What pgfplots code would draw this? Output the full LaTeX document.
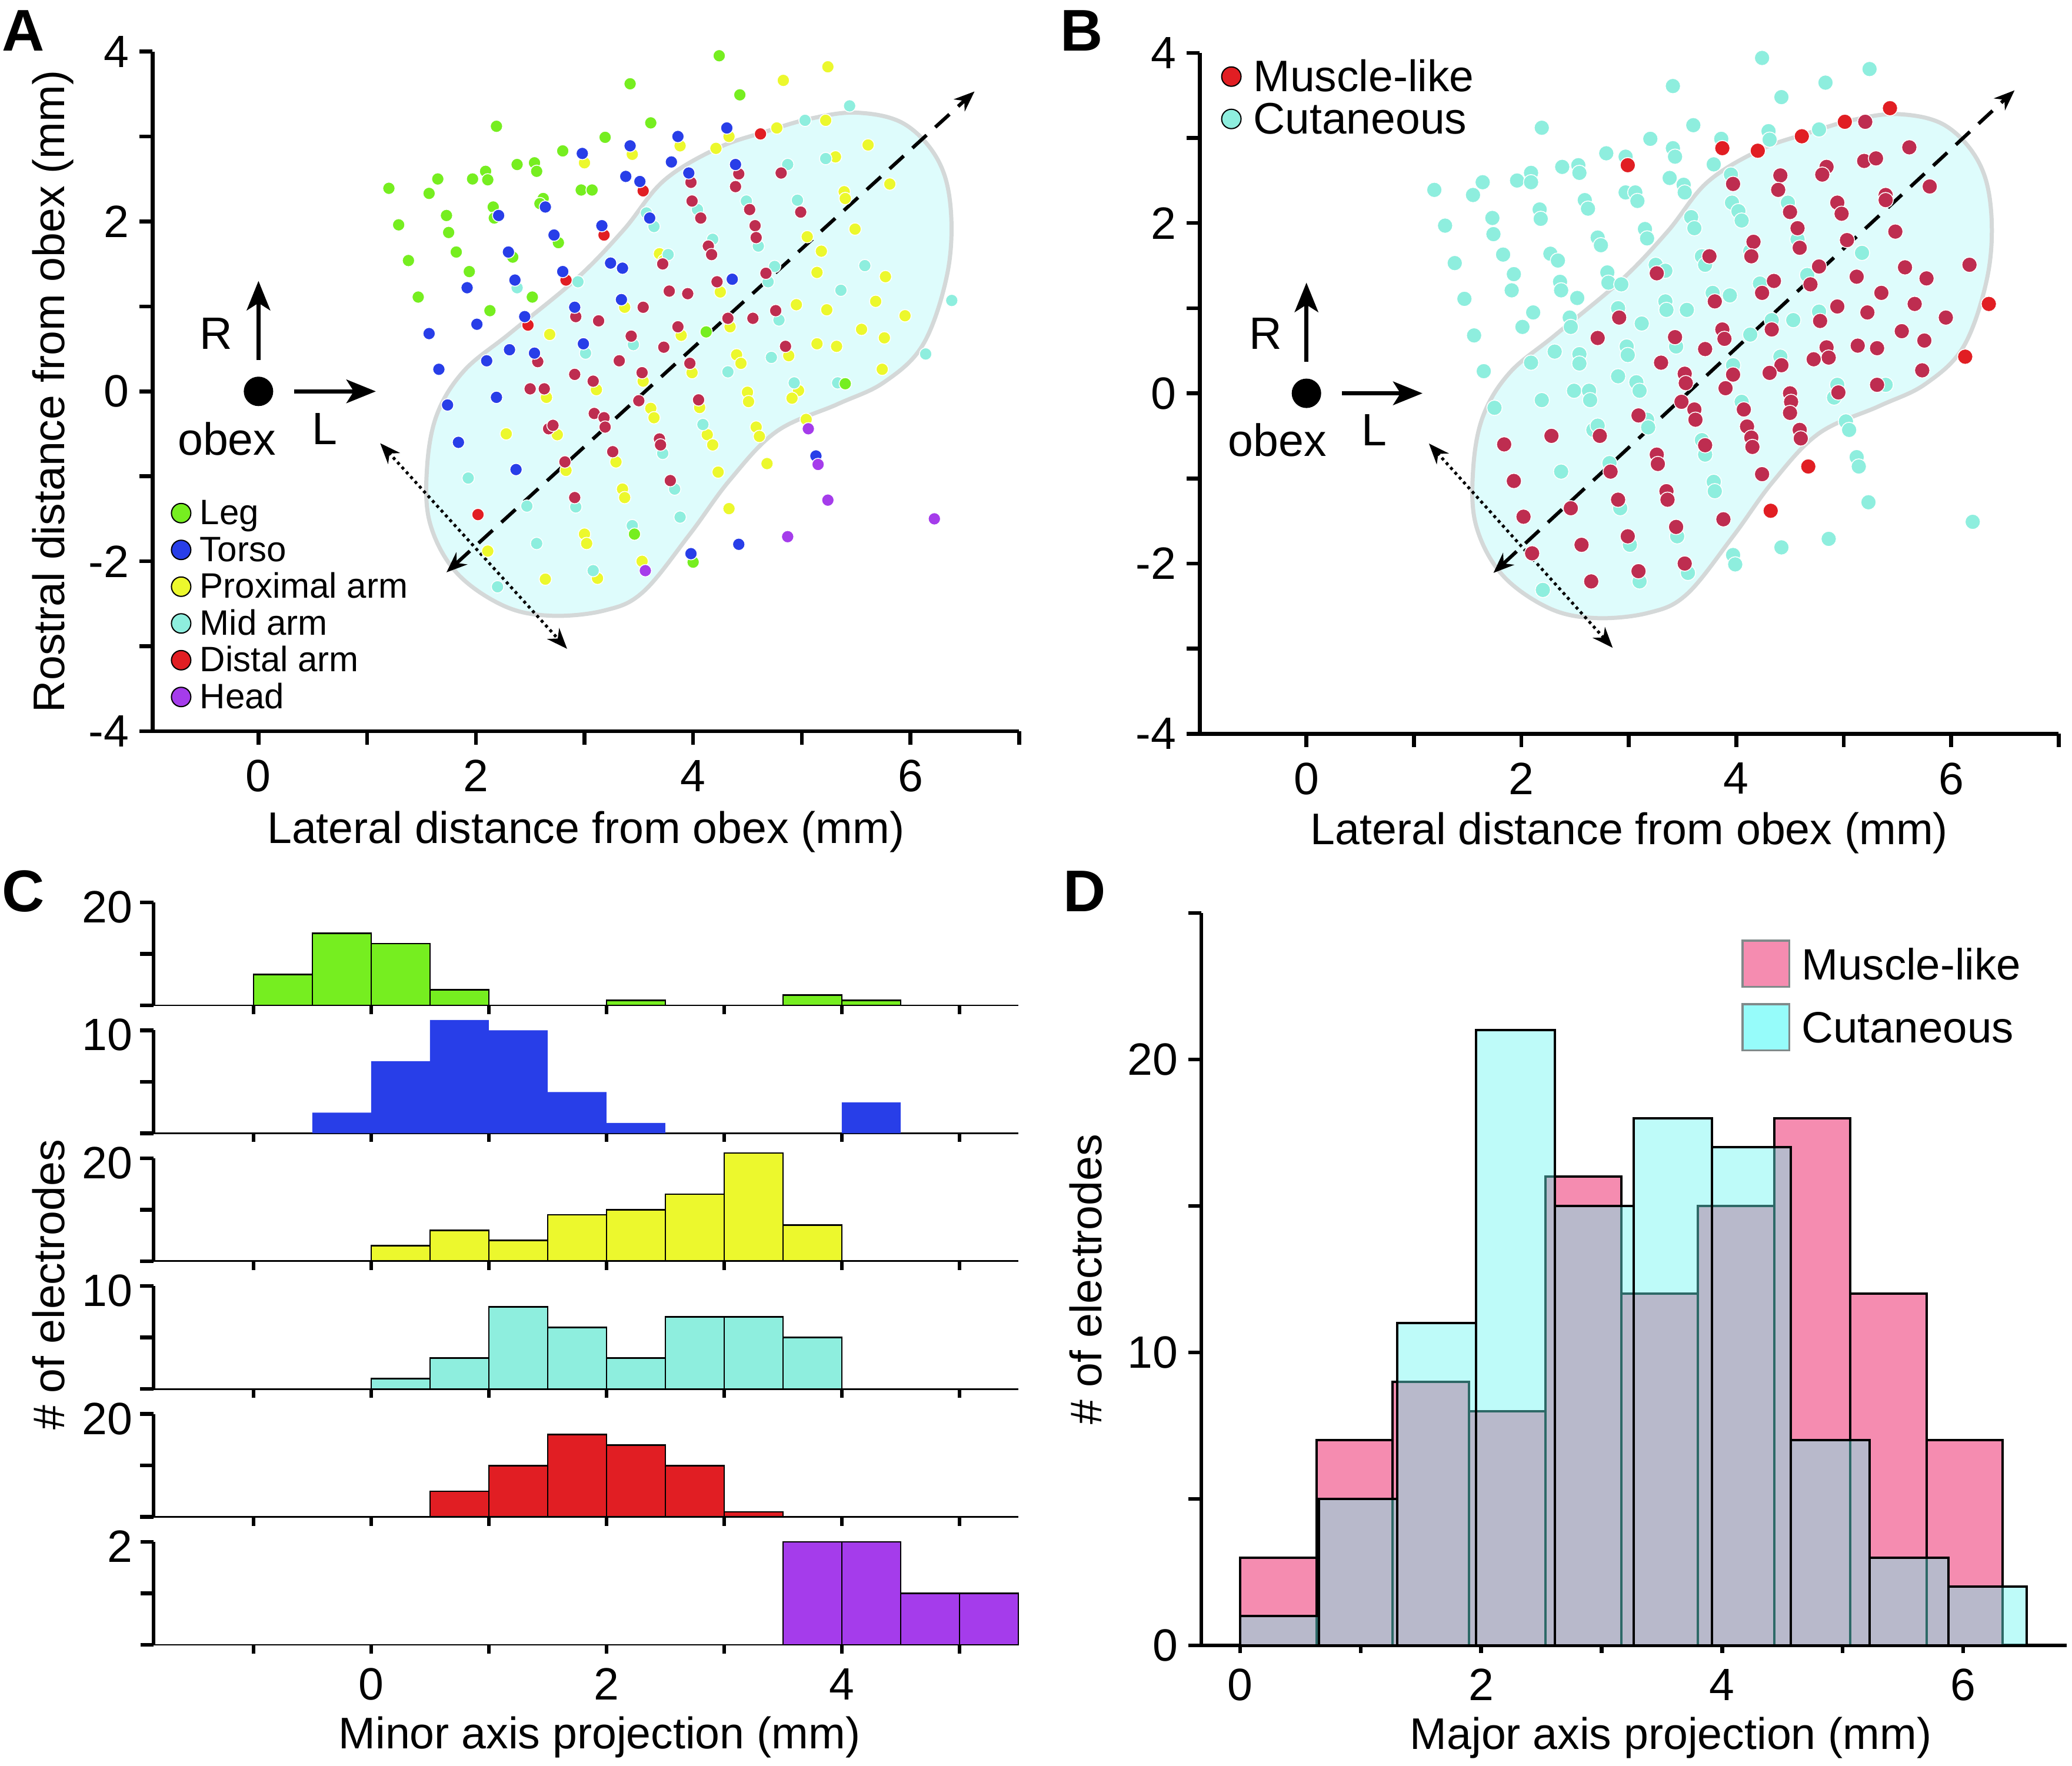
\documentclass[border=0pt]{standalone}
\usepackage{fontspec}
\setmainfont{Liberation Sans}
\usepackage{pgfplots}
\pgfplotsset{compat=1.18}
\usetikzlibrary{arrows.meta}

\definecolor{legc}{RGB}{118,238,32}
\definecolor{torc}{RGB}{40,62,232}
\definecolor{proc}{RGB}{236,248,45}
\definecolor{midc}{RGB}{142,238,222}
\definecolor{disc}{RGB}{225,30,35}
\definecolor{crim}{RGB}{190,45,80}
\definecolor{headc}{RGB}{165,60,235}
\definecolor{blobc}{RGB}{222,252,252}
\definecolor{blobl}{RGB}{212,216,216}
\definecolor{pinkc}{RGB}{245,140,176}
\definecolor{cyanh}{RGB}{105,245,240}
\definecolor{cyanl}{RGB}{150,252,250}
\definecolor{legbox}{RGB}{128,138,138}

\newcommand\tf{\fontsize{15.4}{16}\selectfont}
\newcommand\lf{\fontsize{15.05}{16}\selectfont}

\pgfplotsset{
  base/.style={scale only axis, axis lines*=left, anchor=south west, clip=false,
    axis line style={line width=1.3pt, black}, tick style={line width=1.3pt, black},
    major tick length=4.5pt, tick align=outside,
    tick label style={font=\tf}, label style={font=\lf},
    /pgf/number format/assume math mode=true},
  scA/.style={only marks, mark=*, mark size=2.1pt, forget plot, color=#1, mark options={draw=white, line width=0.3pt, fill=#1}},
  scB/.style={only marks, mark=*, mark size=2.6pt, forget plot, color=#1, mark options={draw=white, line width=0.3pt, fill=#1}},
  cax/.style={base, width=294pt, height=35pt, xmin=-1.85, xmax=5.5, ymin=0,
    xtick={-1,0,...,5}, xticklabels={},
    x axis line style={line width=0.55pt}, y axis line style={line width=1.2pt},
    xtick style={/pgfplots/major tick length=3pt},
    yticklabel style={inner sep=2.5pt, yshift=-1.6pt}},
  hb/.style={ybar interval, fill=#1, draw=black, line width=0.55pt, forget plot},
}

\begin{document}
\begin{tikzpicture}
\path (0pt,0pt) rectangle (704.4pt,-600.2pt);

\node[anchor=base west, inner sep=0pt, font=\bfseries\fontsize{20}{20}\selectfont] at (0.4pt,-17.2pt) {A};
\node[anchor=base west, inner sep=0pt, font=\bfseries\fontsize{20}{20}\selectfont] at (360.2pt,-17.2pt) {B};
\node[anchor=base west, inner sep=0pt, font=\bfseries\fontsize{20}{20}\selectfont] at (0.6pt,-309.8pt) {C};
\node[anchor=base west, inner sep=0pt, font=\bfseries\fontsize{20}{20}\selectfont] at (361.2pt,-309.8pt) {D};

%================ PANEL A =================
\begin{axis}[base, set layers, at={(51.86pt,-248.6pt)}, width=294.6pt, height=231.1pt,
  xmin=-0.975, xmax=7, ymin=-4, ymax=4,
  xtick={0,...,7}, xticklabels={0,,2,,4,,6,},
  ytick={-4,...,4}, yticklabels={-4,,-2,,0,,2,,4},
  xticklabel style={yshift=-1.8pt},
  xlabel={Lateral distance from obex (mm)}, ylabel={Rostral distance from obex (mm)},
  xlabel style={yshift=0.5pt}, ylabel shift=-1.8pt,
  legend style={draw=none, fill=none, at={(axis cs:-0.812,-1.234)}, anchor=north west,
    font=\fontsize{12}{12}\selectfont, inner sep=0pt, row sep=0pt, column sep=2.3pt,
    nodes={inner sep=0.6pt, text height=8.8pt, text depth=2.5pt}},
  legend cell align=left,
  legend image code/.code={\fill[#1] (3.3pt,0.7pt) circle (3.3pt);}]
\begin{pgfonlayer}{axis background}
\fill[blobc] plot[smooth cycle, tension=0.6] coordinates {(1.55,-0.92) (1.58,-1.56) (1.82,-2.13) (2.25,-2.52) (2.68,-2.64) (3.18,-2.58) (3.54,-2.36) (3.97,-1.68) (4.34,-1.04) (4.77,-0.47) (5.33,-0.15) (5.76,0.11) (6.12,0.56) (6.34,1.39) (6.37,2.16) (6.25,2.73) (5.94,3.15) (5.51,3.28) (5.08,3.21) (4.65,3.05) (4.22,2.86) (3.73,2.48) (3.36,1.90) (2.93,1.33) (2.32,0.69) (1.89,0.24) (1.64,-0.28)};
\end{pgfonlayer}
% Proximal arm
\addplot[scA=proc] coordinates {(5.24,3.82) (4.83,3.66) (5.22,3.19) (4.77,3.10) (4.33,3.00) (3.88,2.89) (3.44,2.79) (4.21,2.86) (3.00,2.69) (5.31,2.76) (5.61,2.90) (5.81,2.44) (5.39,2.35) (5.40,2.27) (5.49,1.91) (5.05,1.82) (5.18,1.65) (5.14,1.40) (5.77,1.35) (3.69,1.62) (4.25,1.17) (4.95,1.02) (5.23,0.96) (5.68,1.06) (5.95,0.89) (3.37,0.99) (4.34,0.76) (3.89,0.66) (5.14,0.56) (5.32,0.53) (5.55,0.73) (5.76,0.63) (4.40,0.43) (4.44,0.33) (3.99,0.22) (4.88,0.42) (5.74,0.26) (3.11,0.02) (3.54,0.12) (4.06,-0.19) (4.50,-0.01) (4.51,-0.12) (4.97,0.01) (4.91,-0.08) (2.65,-0.07) (3.61,-0.20) (3.64,-0.31) (4.13,-0.51) (4.18,-0.63) (4.58,-0.42) (4.61,-0.53) (5.04,-0.33) (2.28,-0.50) (2.75,-0.51) (3.29,-0.83) (2.83,-0.93) (4.23,-0.95) (4.68,-0.85) (3.35,-1.15) (3.37,-1.25) (4.33,-1.38) (2.11,-1.88) (3.00,-1.68) (3.02,-1.79) (3.53,-2.00) (2.64,-2.21) (3.12,-2.20) (3.73,1.54) (2.68,0.67)};
% Mid arm
\addplot[scA=midc] coordinates {(5.44,3.36) (5.03,3.19) (4.87,2.67) (5.22,2.74) (4.96,2.25) (4.49,2.24) (4.04,2.14) (3.57,2.10) (3.64,1.94) (4.18,1.79) (4.60,1.71) (3.77,1.61) (4.75,1.47) (4.69,1.29) (5.58,1.48) (5.36,1.19) (2.94,1.29) (2.38,1.22) (6.38,1.07) (6.14,0.44) (4.79,0.84) (4.72,0.40) (4.32,0.23) (4.93,0.10) (5.33,0.10) (3.45,0.55) (3.01,0.45) (4.09,-0.39) (3.72,-0.73) (3.83,-1.15) (3.88,-1.48) (2.92,-1.36) (3.44,-1.58) (2.56,-1.79) (1.93,-1.02) (2.47,-1.35) (2.20,-2.30) (3.08,-2.11)};
% Leg
\addplot[scA=legc] coordinates {(4.24,3.95) (3.42,3.62) (4.43,3.49) (2.19,3.12) (3.61,3.16) (3.19,2.99) (2.80,2.83) (1.20,2.39) (1.65,2.50) (1.57,2.33) (1.97,2.50) (2.09,2.59) (2.11,2.49) (2.38,2.67) (2.54,2.69) (2.56,2.59) (2.97,2.37) (3.07,2.37) (1.29,1.96) (1.73,2.07) (1.75,1.87) (1.82,1.64) (1.94,1.41) (1.38,1.54) (1.47,1.11) (2.16,2.17) (2.17,2.04) (2.34,1.58) (2.62,2.27) (2.59,2.21) (2.76,1.75) (2.52,1.11) (2.13,0.95) (4.12,0.70) (5.40,0.09) (4.00,-2.01) (3.46,-1.68)};
% Distal arm (outside / inside the shaded region)
\addplot[scA=disc] coordinates {(4.62,3.03) (3.54,2.36) (3.18,1.84) (2.83,1.31) (2.48,0.78) (2.02,-1.45)};
\addplot[scA=crim] coordinates {(3.98,2.46) (4.42,2.56) (4.39,2.41) (3.99,2.24) (4.07,2.04) (4.52,2.14) (4.81,2.57) (4.99,2.11) (4.57,1.95) (4.58,1.81) (4.14,1.71) (4.17,1.61) (3.72,1.50) (4.22,1.29) (4.67,1.39) (3.78,1.18) (3.95,1.15) (3.54,0.99) (2.92,0.88) (4.76,0.95) (4.32,0.86) (4.55,0.86) (3.13,0.83) (3.86,0.76) (3.43,0.65) (3.73,0.52) (2.57,0.35) (4.85,0.53) (3.32,0.36) (3.97,0.33) (2.91,0.20) (3.53,0.22) (3.08,0.12) (2.50,0.03) (2.63,0.03) (3.50,-0.11) (4.05,-0.10) (3.09,-0.26) (3.18,-0.31) (3.19,-0.42) (2.67,-0.44) (2.71,-0.40) (3.69,-0.56) (3.70,-0.63) (3.26,-0.71) (2.82,-0.83) (3.79,-1.05) (2.91,-1.25)};
% Torso
\addplot[scA=torc] coordinates {(3.86,3.00) (3.42,2.89) (2.98,2.80) (4.31,3.10) (3.80,2.70) (3.96,2.57) (3.38,2.53) (3.51,2.47) (4.39,2.67) (2.64,2.17) (2.21,2.07) (3.60,2.04) (3.16,1.95) (2.72,1.84) (2.30,1.64) (2.36,1.31) (1.92,1.22) (2.80,1.41) (3.24,1.51) (3.35,1.45) (3.34,1.08) (4.36,1.32) (2.91,0.99) (2.45,0.88) (2.01,0.79) (1.57,0.68) (1.66,0.26) (2.10,0.36) (2.31,0.49) (2.54,0.45) (2.99,0.56) (1.74,-0.16) (2.19,-0.07) (1.84,-0.60) (2.37,-0.92) (5.13,-0.76) (3.98,-1.91) (4.42,-1.80)};
% Head
\addplot[scA=headc] coordinates {(5.06,-0.44) (5.15,-0.86) (5.24,-1.28) (4.87,-1.71) (6.22,-1.50) (3.56,-2.11)};
\draw[blobl, line width=1.4pt] plot[smooth cycle, tension=0.6] coordinates {(1.55,-0.92) (1.58,-1.56) (1.82,-2.13) (2.25,-2.52) (2.68,-2.64) (3.18,-2.58) (3.54,-2.36) (3.97,-1.68) (4.34,-1.04) (4.77,-0.47) (5.33,-0.15) (5.76,0.11) (6.12,0.56) (6.34,1.39) (6.37,2.16) (6.25,2.73) (5.94,3.15) (5.51,3.28) (5.08,3.21) (4.65,3.05) (4.22,2.86) (3.73,2.48) (3.36,1.90) (2.93,1.33) (2.32,0.69) (1.89,0.24) (1.64,-0.28)};
% obex
\addplot[only marks, mark=*, mark size=4.8pt, black, forget plot] coordinates {(0,0)};
\draw[line width=1.3pt, -{Stealth[length=10pt,width=8pt,inset=2.5pt]}] (axis cs:0,0.37) -- (axis cs:0,1.30);
\draw[line width=1.3pt, -{Stealth[length=10pt,width=8pt,inset=2.5pt]}] (axis cs:0.33,0) -- (axis cs:1.08,0);
\node[font=\tf] at (axis cs:-0.39,0.68) {R};
\node[font=\tf] at (axis cs:0.61,-0.44) {L};
\node[font=\tf] at (axis cs:-0.29,-0.56) {obex};
\draw[line width=1.2pt, dash pattern=on 6.5pt off 4pt, {Stealth[length=7pt,width=5.5pt]}-{Stealth[length=7pt,width=5.5pt]}] (axis cs:1.73,-2.13) -- (axis cs:6.59,3.53);
\draw[line width=1pt, dash pattern=on 1pt off 1.2pt, {Stealth[length=7pt,width=5.5pt]}-{Stealth[length=7pt,width=5.5pt]}] (axis cs:1.12,-0.61) -- (axis cs:2.84,-3.03);
\addlegendimage{fill=legc}\addlegendentry{Leg}
\addlegendimage{fill=torc}\addlegendentry{Torso}
\addlegendimage{fill=proc}\addlegendentry{Proximal arm}
\addlegendimage{fill=midc}\addlegendentry{Mid arm}
\addlegendimage{fill=disc}\addlegendentry{Distal arm}
\addlegendimage{fill=headc}\addlegendentry{Head}
\end{axis}

%================ PANEL B =================
\begin{axis}[base, set layers, at={(407.86pt,-249.46pt)}, width=292pt, height=231.5pt,
  xmin=-0.993, xmax=7, ymin=-4, ymax=4,
  xtick={0,...,7}, xticklabels={0,,2,,4,,6,},
  ytick={-4,...,4}, yticklabels={-4,,-2,,0,,2,,4},
  xticklabel style={yshift=-1.8pt},
  xlabel={Lateral distance from obex (mm)},
  xlabel style={yshift=0.9pt},
  legend style={draw=none, fill=none, at={(axis cs:-0.80,3.947)}, anchor=north west,
    font=\fontsize{15}{15}\selectfont, inner sep=0pt, row sep=0pt, column sep=3.7pt,
    nodes={inner sep=0.3pt, text height=11pt, text depth=2.8pt}},
  legend cell align=left,
  legend image code/.code={\fill[#1] (3.3pt,0.86pt) circle (3.3pt);}]
\begin{pgfonlayer}{axis background}
\fill[blobc] plot[smooth cycle, tension=0.6] coordinates {(1.55,-0.92) (1.58,-1.56) (1.82,-2.13) (2.25,-2.52) (2.68,-2.64) (3.18,-2.58) (3.54,-2.36) (3.97,-1.68) (4.34,-1.04) (4.77,-0.47) (5.33,-0.15) (5.76,0.11) (6.12,0.56) (6.34,1.39) (6.37,2.16) (6.25,2.73) (5.94,3.15) (5.51,3.28) (5.08,3.21) (4.65,3.05) (4.22,2.86) (3.73,2.48) (3.36,1.90) (2.93,1.33) (2.32,0.69) (1.89,0.24) (1.64,-0.28)};
\end{pgfonlayer}
% Cutaneous
\addplot[scB=midc] coordinates {(4.24,3.94) (5.24,3.81) (3.41,3.61) (4.83,3.65) (4.42,3.48) (2.19,3.12) (3.60,3.15) (3.20,2.99) (3.86,2.99) (4.30,3.08) (4.31,2.98) (2.79,2.82) (2.97,2.78) (3.41,2.88) (3.43,2.78) (3.79,2.69) (1.19,2.39) (1.64,2.48) (1.55,2.33) (1.96,2.50) (2.09,2.59) (2.09,2.48) (2.38,2.66) (2.53,2.68) (2.54,2.59) (2.97,2.36) (3.06,2.36) (3.08,2.26) (3.38,2.53) (3.51,2.45) (3.52,2.36) (3.95,2.57) (1.29,1.97) (1.38,1.53) (1.73,2.06) (1.74,1.87) (1.83,1.63) (1.93,1.40) (1.91,1.21) (2.17,2.16) (2.18,2.05) (2.59,2.27) (2.62,2.17) (2.71,1.83) (2.74,1.74) (3.15,1.93) (3.17,1.82) (2.27,1.64) (2.34,1.56) (2.36,1.31) (2.37,1.21) (2.52,1.12) (2.80,1.42) (2.81,1.30) (2.93,1.28) (1.47,1.11) (1.56,0.68) (2.01,0.78) (2.11,0.95) (2.45,0.89) (2.46,0.78) (1.65,0.26) (2.09,0.36) (2.31,0.49) (2.54,0.46) (2.54,0.35) (1.75,-0.17) (2.19,-0.08) (2.49,0.03) (2.63,0.03) (2.64,-0.08) (2.67,-0.43) (2.71,-0.38) (2.37,-0.92) (2.82,-0.82) (2.90,1.00) (3.12,0.82) (2.98,0.55) (2.99,0.45) (2.90,0.20) (3.07,0.13) (3.10,0.03) (3.17,-0.31) (3.18,-0.40) (3.25,1.51) (3.34,1.44) (3.34,1.08) (3.35,0.98) (3.54,0.98) (3.44,0.55) (3.58,2.07) (3.61,1.94) (3.68,1.61) (3.71,1.51) (3.78,1.18) (3.94,1.15) (3.96,2.24) (4.02,2.14) (4.05,2.03) (4.13,1.67) (4.13,0.69) (4.22,1.29) (4.33,0.86) (4.48,2.24) (4.57,1.81) (4.53,0.86) (4.41,0.43) (3.97,0.33) (4.05,-0.10) (3.68,-0.55) (3.71,-0.72) (3.79,-1.04) (3.80,-1.15) (2.92,-1.35) (3.01,-1.78) (3.10,-2.21) (3.45,-1.68) (3.55,-2.11) (2.20,-2.31) (3.97,-1.90) (3.99,-2.01) (4.42,-1.81) (4.86,-1.71) (5.23,-1.28) (6.20,-1.51) (4.66,1.39) (4.77,0.96) (4.94,0.10) (4.91,-0.05) (5.02,-0.33) (5.05,-0.43) (5.12,-0.75) (5.14,-0.86) (5.17,1.65) (5.39,0.10) (4.77,3.10)};
% Muscle-like (inside / outside the shaded region)
\addplot[scB=crim] coordinates {(5.20,3.19) (5.61,2.89) (5.19,2.73) (5.30,2.76) (4.84,2.66) (4.80,2.57) (4.41,2.56) (4.39,2.39) (3.97,2.46) (5.80,2.43) (5.39,2.33) (5.39,2.27) (4.50,2.13) (4.94,2.24) (4.98,2.11) (5.48,1.90) (4.57,1.94) (5.03,1.80) (4.59,1.71) (4.16,1.78) (4.14,1.61) (3.75,1.61) (5.57,1.48) (6.17,1.51) (4.77,1.49) (5.12,1.37) (4.69,1.28) (5.77,1.35) (3.26,1.41) (4.35,1.32) (4.24,1.18) (5.35,1.18) (3.80,1.08) (5.66,1.05) (4.94,1.02) (5.22,0.95) (2.91,0.89) (4.78,0.85) (5.95,0.89) (3.87,0.75) (4.33,0.75) (3.89,0.64) (5.54,0.73) (3.43,0.66) (2.71,0.65) (5.75,0.62) (5.13,0.56) (5.31,0.53) (4.84,0.54) (3.71,0.52) (4.86,0.42) (4.72,0.40) (3.30,0.36) (4.42,0.33) (3.97,0.22) (4.31,0.24) (3.52,0.23) (3.53,0.12) (5.73,0.27) (3.90,0.06) (5.31,0.10) (4.50,0.00) (4.95,0.01) (4.51,-0.10) (3.49,-0.10) (3.61,-0.19) (4.07,-0.19) (4.50,-0.23) (3.62,-0.31) (3.09,-0.26) (4.10,-0.39) (4.59,-0.43) (4.14,-0.52) (4.15,-0.63) (4.60,-0.53) (2.28,-0.50) (2.73,-0.50) (1.84,-0.60) (3.71,-0.61) (3.26,-0.72) (3.27,-0.83) (2.83,-0.92) (1.93,-1.03) (4.24,-0.95) (3.35,-1.15) (3.36,-1.25) (2.90,-1.25) (2.46,-1.35) (2.02,-1.45) (3.88,-1.48) (3.44,-1.57) (2.99,-1.68) (2.56,-1.78) (2.10,-1.88) (3.09,-2.09) (3.52,-2.00) (2.65,-2.21)};
\addplot[scB=disc] coordinates {(2.99,2.68) (3.87,2.88) (4.20,2.85) (4.61,3.02) (5.01,3.19) (5.43,3.35) (6.35,1.05) (6.13,0.43) (4.67,-0.86) (4.32,-1.38)};
\draw[blobl, line width=1.4pt] plot[smooth cycle, tension=0.6] coordinates {(1.55,-0.92) (1.58,-1.56) (1.82,-2.13) (2.25,-2.52) (2.68,-2.64) (3.18,-2.58) (3.54,-2.36) (3.97,-1.68) (4.34,-1.04) (4.77,-0.47) (5.33,-0.15) (5.76,0.11) (6.12,0.56) (6.34,1.39) (6.37,2.16) (6.25,2.73) (5.94,3.15) (5.51,3.28) (5.08,3.21) (4.65,3.05) (4.22,2.86) (3.73,2.48) (3.36,1.90) (2.93,1.33) (2.32,0.69) (1.89,0.24) (1.64,-0.28)};
\addplot[only marks, mark=*, mark size=4.8pt, black, forget plot] coordinates {(0,0)};
\draw[line width=1.3pt, -{Stealth[length=10pt,width=8pt,inset=2.5pt]}] (axis cs:0,0.37) -- (axis cs:0,1.30);
\draw[line width=1.3pt, -{Stealth[length=10pt,width=8pt,inset=2.5pt]}] (axis cs:0.33,0) -- (axis cs:1.08,0);
\node[font=\tf] at (axis cs:-0.38,0.70) {R};
\node[font=\tf] at (axis cs:0.63,-0.43) {L};
\node[font=\tf] at (axis cs:-0.27,-0.55) {obex};
\draw[line width=1.2pt, dash pattern=on 6.5pt off 4pt, {Stealth[length=7pt,width=5.5pt]}-{Stealth[length=7pt,width=5.5pt]}] (axis cs:1.74,-2.11) -- (axis cs:6.59,3.56);
\draw[line width=1pt, dash pattern=on 1pt off 1.2pt, {Stealth[length=7pt,width=5.5pt]}-{Stealth[length=7pt,width=5.5pt]}] (axis cs:1.14,-0.59) -- (axis cs:2.85,-2.99);
\addlegendimage{fill=disc}\addlegendentry{Muscle-like}
\addlegendimage{fill=midc}\addlegendentry{Cutaneous}
\end{axis}

%================ PANEL C =================
\begin{axis}[cax, at={(52.2pt,-341.8pt)}, ymax=20, ytick={0,10,20}, yticklabels={,,20}]
\addplot[hb=legc] coordinates {(-1,6) (-0.5,14) (0,12) (0.5,3) (1,0) (1.5,0) (2,1) (2.5,0) (3,0) (3.5,2) (4,1) (4.5,0)};
\end{axis}
\begin{axis}[cax, at={(52.2pt,-385.28pt)}, ymax=10, ytick={0,5,10}, yticklabels={,,10}]
\addplot[hb=torc, draw=none] coordinates {(-0.5,2) (0,7) (0.5,11) (1,10) (1.5,4) (2,1) (2.5,0) (3,0) (3.5,0) (4,3) (4.5,0)};
\end{axis}
\begin{axis}[cax, at={(52.2pt,-428.76pt)}, ymax=20, ytick={0,10,20}, yticklabels={,,20}]
\addplot[hb=proc] coordinates {(0,3) (0.5,6) (1,4) (1.5,9) (2,10) (2.5,13) (3,21) (3.5,7) (4,0)};
\end{axis}
\begin{axis}[cax, at={(52.2pt,-472.24pt)}, ymax=10, ytick={0,5,10}, yticklabels={,,10}]
\addplot[hb=midc] coordinates {(0,1) (0.5,3) (1,8) (1.5,6) (2,3) (2.5,7) (3,7) (3.5,5) (4,0)};
\end{axis}
\begin{axis}[cax, at={(52.2pt,-515.72pt)}, ymax=20, ytick={0,10,20}, yticklabels={,,20}]
\addplot[hb=disc] coordinates {(0.5,5) (1,10) (1.5,16) (2,14) (2.5,10) (3,1) (3.5,0)};
\end{axis}
\begin{axis}[cax, at={(52.2pt,-559.2pt)}, ymax=2, ytick={0,1,2}, yticklabels={,,2},
  xticklabels={,0,,2,,4,}, xlabel={Minor axis projection (mm)},
  xlabel style={inner sep=0pt, xshift=4.6pt, yshift=-2.0pt}]
\addplot[hb=headc] coordinates {(3.5,2) (4,2) (4.5,1) (5,1) (5.5,0)};
\end{axis}
\node[rotate=90, font=\lf] at (16.6pt,-436.8pt) {\# of electrodes};

%================ PANEL D =================
\begin{axis}[base, at={(408.4pt,-559.4pt)}, width=294.2pt, height=249pt,
  xmin=-0.322, xmax=6.86, ymin=0, ymax=25,
  xtick={0,...,6}, xticklabels={0,,2,,4,,6},
  ytick={0,5,...,25}, yticklabels={0,,10,,20,},
  xtick style={/pgfplots/major tick length=2.6pt},
  xlabel={Major axis projection (mm)}, ylabel={\# of electrodes},
  xlabel style={inner sep=0pt, xshift=12.5pt, yshift=-2.0pt}, ylabel shift=1.8pt,
  legend style={draw=none, fill=none, at={(axis cs:4.157,24.11)}, anchor=north west,
    font=\fontsize{14.9}{15}\selectfont, inner sep=0pt, row sep=5.3pt, column sep=3.6pt,
    nodes={inner sep=0.3pt}},
  legend cell align=left,
  legend image code/.code={\draw[#1] (0.33pt,-6.96pt) rectangle (16.17pt,8.68pt);}]
\addplot[ybar interval, fill=pinkc, draw=black, line width=0.8pt, forget plot] coordinates {(0,3) (0.633,7) (1.266,9) (1.899,8) (2.532,16) (3.165,12) (3.798,15) (4.431,18) (5.064,12) (5.697,7) (6.33,0)};
\addplot[ybar interval, fill=cyanh, fill opacity=0.43, draw=black, draw opacity=1, line width=0.8pt, forget plot] coordinates {(0,1) (0.653,5) (1.306,11) (1.959,21) (2.612,15) (3.265,18) (3.918,17) (4.571,7) (5.224,3) (5.877,2) (6.53,0)};
\addlegendimage{fill=pinkc, draw=legbox, line width=0.67pt}\addlegendentry{Muscle-like}
\addlegendimage{fill=cyanl, draw=legbox, line width=0.67pt}\addlegendentry{Cutaneous}
\end{axis}

\pgfresetboundingbox
\path[use as bounding box] (0pt,0pt) rectangle (704.4pt,-600.2pt);
\end{tikzpicture}
\end{document}
